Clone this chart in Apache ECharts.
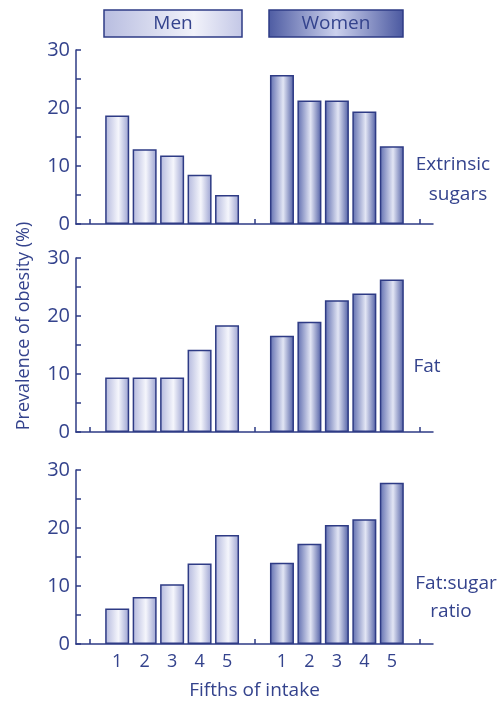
<!DOCTYPE html>
<html>
<head>
<meta charset="utf-8">
<script src="https://cdn.jsdelivr.net/npm/echarts@6/dist/echarts.min.js"></script>
<style>
	html,body{margin:0;padding:0;background:#fff;}
	#obesityChart{width:503px;height:701px;}
</style>
</head>
<body>
<div id="obesityChart"></div>
<script>
// fifths of intake (x labels)
var fifths = ['1', '2', '3', '4', '5'];
// panel names shown at the right
var panelNames = [['Extrinsic', 'sugars'], ['Fat'], ['Fat:sugar', 'ratio']];
// prevalence of obesity (%) per fifth
var sugarsMen   = [18.7, 12.9, 11.8, 8.5, 5.0];
var sugarsWomen = [25.7, 21.3, 21.3, 19.4, 13.4];
var fatMen      = [9.4, 9.4, 9.4, 14.2, 18.4];
var fatWomen    = [16.6, 19.0, 22.7, 23.9, 26.3];
var ratioMen    = [6.1, 8.1, 10.3, 13.9, 18.8];
var ratioWomen  = [14.0, 17.3, 20.5, 21.5, 27.8];
var yTicks = [0, 10, 20, 30];

var navy = '#2e3b85';
var textColor = '#34438d';
var font = 'Open Sans';

var menFill = new echarts.graphic.LinearGradient(0, 0, 1, 0, [
	{offset: 0, color: '#b3b8dd'},
	{offset: 0.55, color: '#f5f6fc'},
	{offset: 1, color: '#9aa1d0'}
]);
var womenFill = new echarts.graphic.LinearGradient(0, 0, 1, 0, [
	{offset: 0, color: '#5f6daf'},
	{offset: 0.55, color: '#e2e5f4'},
	{offset: 1, color: '#4f5da3'}
]);

// category slots: blank, men 1-5, gap, women 1-5, blank
var slots = ['s0'];
fifths.forEach(function(f){ slots.push('m' + f); });
slots.push('s6');
fifths.forEach(function(f){ slots.push('w' + f); });
slots.push('s12');

function menData(arr){
	var d = ['-'];
	arr.forEach(function(v){ d.push(v); });
	for(var i=0;i<7;i++) d.push('-');
	return d;
}
function womenData(arr){
	var d = [];
	for(var i=0;i<7;i++) d.push('-');
	arr.forEach(function(v){ d.push(v); });
	d.push('-');
	return d;
}

var panels = [
	{top: 50, men: sugarsMen, women: sugarsWomen},
	{top: 258, men: fatMen, women: fatWomen},
	{top: 470, men: ratioMen, women: ratioWomen}
];

var grids = [], xAxes = [], yAxes = [], series = [];
panels.forEach(function(p, i){
	grids.push({left: 76, top: p.top, width: 357, height: 174});
	var last = (i === panels.length - 1);
	xAxes.push({
		type: 'category',
		gridIndex: i,
		data: slots,
		boundaryGap: true,
		axisLine: {lineStyle: {color: navy, width: 1.5}},
		axisTick: {
			show: true, inside: true, length: 5, alignWithLabel: true,
			lineStyle: {color: navy, width: 1.5},
			interval: function(idx){ return idx === 0 || idx === 6 || idx === 12; }
		},
		axisLabel: {
			show: last, interval: 0, margin: 9,
			color: textColor, fontFamily: font, fontSize: 18,
			formatter: function(v){ return v.charAt(0) === 's' ? '' : v.substring(1); }
		},
		splitLine: {show: false},
		name: last ? 'Fifths of intake' : '',
		nameLocation: 'middle',
		nameGap: 37,
		nameTextStyle: {color: textColor, fontFamily: font, fontSize: 19}
	});
	yAxes.push({
		type: 'value',
		gridIndex: i,
		min: 0, max: 30, interval: 5,
		axisLine: {show: true, lineStyle: {color: navy, width: 1.5}},
		axisTick: {show: true, inside: true, length: 5, lineStyle: {color: navy, width: 1.5}},
		axisLabel: {
			margin: 6, color: textColor, fontFamily: font, fontSize: 20,
			formatter: function(v){ return yTicks.indexOf(v) >= 0 ? v : ''; }
		},
		splitLine: {show: false}
	});
	series.push({
		name: 'Men', type: 'bar', xAxisIndex: i, yAxisIndex: i,
		data: menData(p.men), barWidth: 24, barGap: '-100%',
		itemStyle: {color: menFill, borderColor: navy, borderWidth: 1.5},
		silent: true
	});
	series.push({
		name: 'Women', type: 'bar', xAxisIndex: i, yAxisIndex: i,
		data: womenData(p.women), barWidth: 24, barGap: '-100%',
		itemStyle: {color: womenFill, borderColor: navy, borderWidth: 1.5},
		silent: true
	});
});

// side labels for each panel
var sideLabels = [];
var sideX = [[453, 458], [427], [456, 451]];
var sideY = [[165, 195], [367], [584, 612]];
panelNames.forEach(function(lines, i){
	lines.forEach(function(t, j){
		sideLabels.push({
			type: 'text', x: sideX[i][j], y: sideY[i][j], z: 100,
			style: {text: t, fill: textColor, font: '19px "' + font + '"', textAlign: 'center', textVerticalAlign: 'middle'}
		});
	});
});

function legendBox(x, w, label, fill){
	return {
		type: 'group', x: x, y: 10,
		children: [
			{type: 'rect', shape: {x: 0, y: 0, width: w, height: 27}, style: {fill: fill, stroke: navy, lineWidth: 1.5}},
			{type: 'text', x: w / 2, y: 14, style: {text: label, fill: textColor, font: '19px "' + font + '"', textAlign: 'center', textVerticalAlign: 'middle'}}
		]
	};
}

var charts = echarts.init(document.getElementById('obesityChart'));
var option = {
	animation: false,
	grid: grids,
	xAxis: xAxes,
	yAxis: yAxes,
	series: series,
	graphic: [
		legendBox(104, 138, 'Men', new echarts.graphic.LinearGradient(0, 0, 1, 0, [
			{offset: 0, color: '#b8bde0'},
			{offset: 0.65, color: '#f1f2fa'},
			{offset: 1, color: '#c3c7e6'}
		])),
		legendBox(269, 134, 'Women', new echarts.graphic.LinearGradient(0, 0, 1, 0, [
			{offset: 0, color: '#4d5ba2'},
			{offset: 0.5, color: '#ccd1ed'},
			{offset: 1, color: '#4a58a0'}
		])),
		{
			type: 'text', x: 24, y: 326, rotation: Math.PI / 2,
			style: {text: 'Prevalence of obesity (%)', fill: textColor, font: '18px "' + font + '"', textAlign: 'center', textVerticalAlign: 'middle'}
		}
	].concat(sideLabels)
};
charts.setOption(option);
</script>
</body>
</html>
